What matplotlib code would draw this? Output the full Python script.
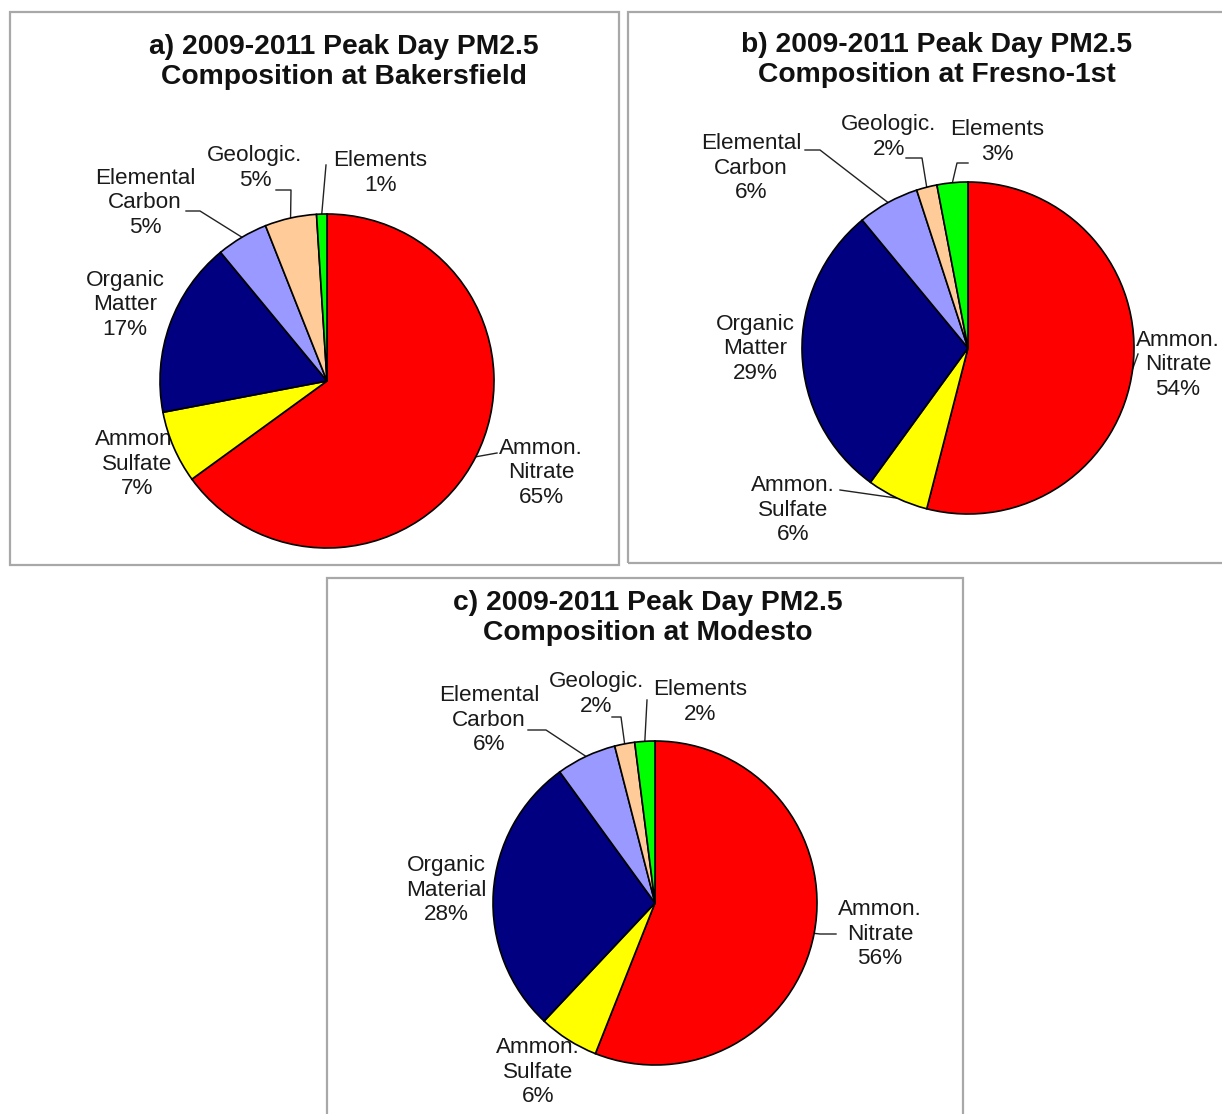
import matplotlib
matplotlib.use("Agg")
import matplotlib.pyplot as plt
from matplotlib.patches import Rectangle
import numpy as np

plt.rcParams['font.family'] = ['Liberation Sans', 'DejaVu Sans']

# ---------------- data ----------------
components = ["Ammon. Nitrate", "Ammon. Sulfate", "Organic Matter",
              "Elemental Carbon", "Geologic.", "Elements"]
colors = ["#FF0000", "#FFFF00", "#000080", "#9999FF", "#FFCC99", "#00FF00"]

bakersfield = [65, 7, 17, 5, 5, 1]
fresno = [54, 6, 29, 6, 2, 3]
modesto = [56, 6, 28, 6, 2, 2]

names_a = ["Ammon.\nNitrate", "Ammon.\nSulfate", "Organic\nMatter",
           "Elemental\nCarbon", "Geologic.", "Elements"]
names_b = names_a
names_c = ["Ammon.\nNitrate", "Ammon.\nSulfate", "Organic\nMaterial",
           "Elemental\nCarbon", "Geologic.", "Elements"]

titles = ["a) 2009-2011 Peak Day PM2.5\nComposition at Bakersfield",
          "b) 2009-2011 Peak Day PM2.5\nComposition at Fresno-1st",
          "c) 2009-2011 Peak Day PM2.5\nComposition at Modesto"]

# ---------------- layout (pixel coordinates, y downward) ----------------
W, H = 1222, 1114
fig = plt.figure(figsize=(W / 100, H / 100), dpi=100)
ax = fig.add_axes([0, 0, 1, 1])
ax.set_xlim(0, W)
ax.set_ylim(0, H)
ax.axis("off")


def Y(y):
    return H - y


panels = [
    dict(values=bakersfield, names=names_a, title=titles[0],
         box=(10, 12, 619, 565), center=(327, 381), r=167, title_xy=(344, 62),
         label_xy=[(541, 473), (137, 464), (125, 305), (145, 203), (255, 168), (380, 173)],
         leaders=[[(497, 453)], None, None, [(200, 211), (186, 211)],
                  [(291, 190), (276, 190)], [(326, 165)]]),
    dict(values=fresno, names=names_b, title=titles[1],
         box=(628, 12, 1260, 563), center=(968, 348), r=166, title_xy=(937, 60),
         label_xy=[(1178, 365), (793, 510), (755, 349), (751, 168), (889, 137), (997, 142)],
         leaders=[[(1138, 354)], [(840, 490)], None, [(820, 150), (805, 150)],
                  [(922, 158), (906, 158)], [(957, 163), (968, 163)]]),
    dict(values=modesto, names=names_c, title=titles[2],
         box=(327, 578, 963, 1140), center=(655, 903), r=162, title_xy=(648, 618),
         label_xy=[(880, 934), (538, 1072), (446, 890), (489, 720), (596, 694), (700, 702)],
         leaders=[[(820, 934), (836, 934)], None, None, [(546, 730), (528, 730)],
                  [(621, 717), (612, 717)], [(647, 700)]]),
]

for p in panels:
    x0, y0, x1, y1 = p["box"]
    ax.add_patch(Rectangle((x0, Y(y1)), x1 - x0, y1 - y0, facecolor="none",
                           edgecolor="#a8a8a8", lw=1.6, zorder=0.2))
    cx, cy = p["center"]
    wedges, _ = ax.pie(p["values"], colors=colors, startangle=90, counterclock=False,
                       center=(cx, Y(cy)), radius=p["r"],
                       wedgeprops=dict(edgecolor="black", linewidth=1.2),
                       frame=True)
    ax.set_xlim(0, W)
    ax.set_ylim(0, H)
    ax.set_aspect("auto")
    ax.axis("off")

    tx, ty = p["title_xy"]
    ax.text(tx, Y(ty), p["title"], ha="center", va="center", fontsize=20.3,
            fontweight="bold", linespacing=1.2, color="#111111")

    for w, name, val, (lx, ly), lead in zip(wedges, p["names"], p["values"],
                                             p["label_xy"], p["leaders"]):
        ax.text(lx, Y(ly), f"{name}\n{val}%", ha="center", va="center",
                fontsize=16.2, linespacing=1.24, color="#1a1a1a", zorder=0.5)
        if lead is not None:
            ang = np.deg2rad((w.theta1 + w.theta2) / 2)
            ex = cx + p["r"] * np.cos(ang)
            ey = Y(cy) + p["r"] * np.sin(ang)
            xs = [ex] + [q[0] for q in lead]
            ys = [ey] + [Y(q[1]) for q in lead]
            ax.plot(xs, ys, color="#222222", lw=1.0, zorder=0.6)

fig.savefig("out.png", dpi=100, facecolor="white")
